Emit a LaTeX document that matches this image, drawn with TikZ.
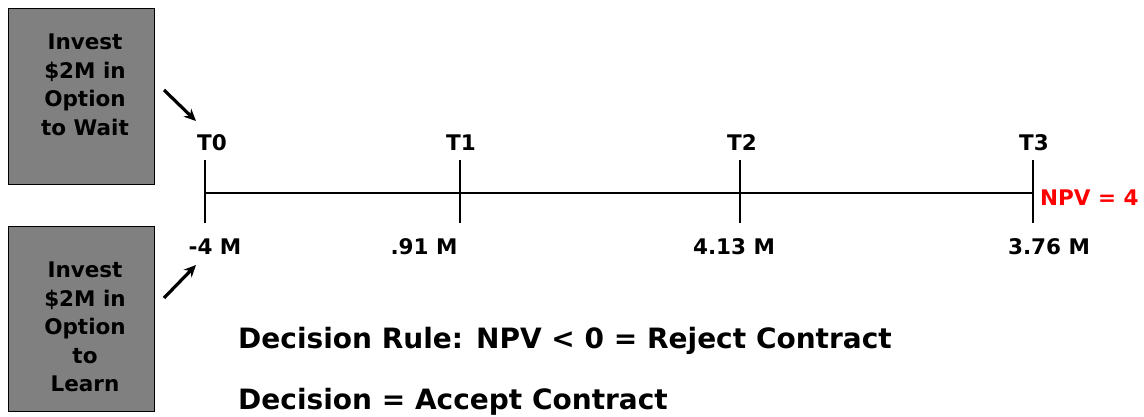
\documentclass[tikz,border=0pt]{standalone}
\usepackage{fontspec}
\setmainfont{DejaVu Sans}
\usetikzlibrary{arrows.meta}
\begin{document}
\begin{tikzpicture}[x=1pt,y=-1pt,
  box/.style={draw=black,fill=black!50!white,line width=1pt},
  boxtxt/.style={align=center,font=\fontsize{21.5}{28.5}\selectfont\bfseries,inner sep=0pt},
  lbl/.style={font=\fontsize{21.5}{24}\selectfont\bfseries,inner sep=0pt},
  big/.style={font=\fontsize{28}{32}\selectfont\bfseries,inner sep=0pt,anchor=base west},
  arr/.style={-{Stealth[length=12pt,width=11pt]},line width=3.2pt}]
\useasboundingbox (0,0) rectangle (1144,416);
\draw[box] (8,8) rectangle (154,184);
\draw[box] (8,226) rectangle (154,411);
\node[boxtxt] (wait) at (85,85) {Invest\\\$2M in\\Option\\to Wait};
\node[boxtxt] (learn) at (85,327) {Invest\\\$2M in\\Option\\to\\Learn};
\coordinate (t0) at (205,193);
\coordinate (t1) at (460,193);
\coordinate (t2) at (740,193);
\coordinate (t3) at (1033,193);
\draw[line width=1.2pt] (t0) -- (t3);
\foreach \p in {t0,t1,t2,t3} \draw[line width=1.2pt] ([yshift=-30]\p) -- ([yshift=33]\p);
\node[lbl] (l0) at (212,143) {T0};
\node[lbl] (l1) at (461,143) {T1};
\node[lbl] (l2) at (742,143) {T2};
\node[lbl] (l3) at (1034,143) {T3};
\node[lbl] (v0) at (215,247) {-4 M};
\node[lbl] (v1) at (424,247) {.91 M};
\node[lbl] (v2) at (734,247) {4.13 M};
\node[lbl] (v3) at (1049,247) {3.76 M};
\node[lbl,text=red,anchor=west] (npv) at (1040,198) {NPV = 4};
\coordinate (a1s) at (164,90);
\coordinate (a1e) at (196,121);
\coordinate (a2s) at (164,298);
\coordinate (a2e) at (196,265);
\draw[arr] (a1s) -- (a1e);
\draw[arr] (a2s) -- (a2e);
\node[big] (rule) at (238,348) {Decision Rule: NPV < 0 = Reject Contract};
\node[big] (dec) at (238,409) {Decision = Accept Contract};
\end{tikzpicture}
\end{document}
